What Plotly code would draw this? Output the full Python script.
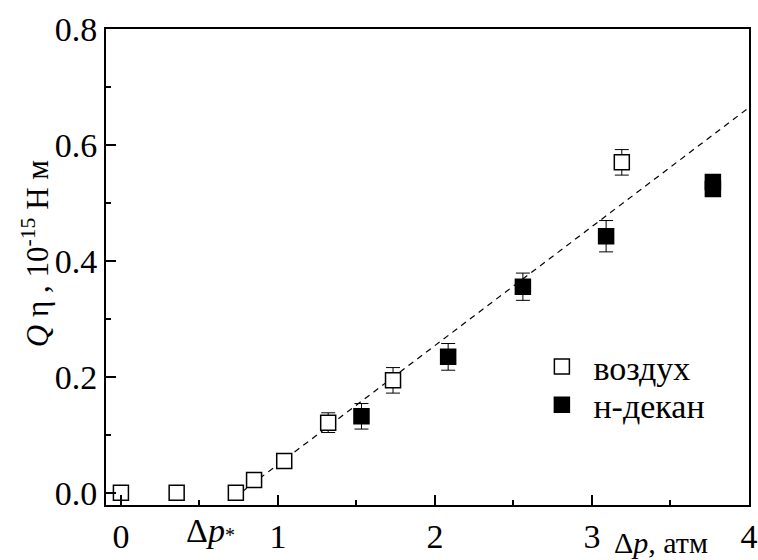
import plotly.graph_objects as go

# Data
air_x = [0.0, 0.355, 0.732, 0.848, 1.04, 1.32, 1.733, 3.19]
air_y = [0.0, 0.0, 0.0, 0.022, 0.055, 0.121, 0.194, 0.570]
air_err = [0.0, 0.0, 0.0, 0.0, 0.004, 0.017, 0.022, 0.022]

dec_x = [1.532, 2.084, 2.56, 3.09, 3.77, 3.77]
dec_y = [0.132, 0.2345, 0.3555, 0.4426, 0.536, 0.524]
dec_err = [0.022, 0.023, 0.0235, 0.027, 0.004, 0.004]

fit_x = [0.715, 4.0]
fit_y = [-0.0097, 0.6645]

x_ticks = [0, 1, 2, 3, 4]
y_ticks = [0.0, 0.2, 0.4, 0.6, 0.8]

FONT = "Liberation Serif"
FS = 34

fig = go.Figure()

fig.add_trace(go.Scatter(
    x=fit_x, y=fit_y, mode="lines",
    line=dict(color="black", width=1.2, dash="6px,5px"),
    showlegend=False, hoverinfo="skip"))

fig.add_trace(go.Scatter(
    x=air_x, y=air_y, mode="markers", name="воздух", legend="legend",
    marker=dict(symbol="square", size=15, color="white",
                line=dict(color="black", width=1.5)),
    error_y=dict(type="data", array=air_err, visible=True,
                 color="black", thickness=1, width=7)))

fig.add_trace(go.Scatter(
    x=dec_x, y=dec_y, mode="markers", name="н-декан", legend="legend2",
    marker=dict(symbol="square", size=15, color="black",
                line=dict(color="black", width=1.5)),
    error_y=dict(type="data", array=dec_err, visible=True,
                 color="black", thickness=1, width=7)))

axis_common = dict(
    showline=True, linecolor="black", linewidth=2, mirror=True,
    ticks="inside", tickcolor="black", tickwidth=2, ticklen=10,
    showgrid=False, zeroline=False, automargin=False,
    tickfont=dict(family=FONT, size=FS, color="black"),
)

fig.update_xaxes(
    range=[-0.095, 4.0], tickvals=x_ticks,
    minor=dict(ticks="inside", dtick=0.5, ticklen=5, tickwidth=2, tickcolor="black"),
    **axis_common)
fig.update_yaxes(
    range=[-0.021, 0.8], tickvals=y_ticks, tickformat=".1f",
    minor=dict(ticks="inside", dtick=0.1, ticklen=5, tickwidth=2, tickcolor="black"),
    **axis_common)

legend_common = dict(xanchor="left", yanchor="middle", bgcolor="rgba(0,0,0,0)",
                     font=dict(family=FONT, size=FS, color="black"), itemwidth=53)

fig.update_layout(
    width=758, height=560,
    margin=dict(l=106, r=9, t=29, b=55),
    paper_bgcolor="white", plot_bgcolor="white",
    font=dict(family=FONT, size=FS, color="black"),
    legend=dict(x=0.660, y=0.29, **legend_common),
    legend2=dict(x=0.660, y=0.21, **legend_common),
    annotations=[
        dict(text="<i>Q</i> η , 10<sup>-15</sup> Н м", textangle=-90,
             xref="paper", yref="paper", x=0, y=0.527, xshift=-71,
             xanchor="center", yanchor="middle", showarrow=False,
             font=dict(family=FONT, size=31, color="black")),
        dict(text="Δ<i>p</i>, атм", xref="x", yref="paper", x=3.44, y=0,
             yshift=-37, xanchor="center", yanchor="middle", showarrow=False,
             font=dict(family=FONT, size=30, color="black")),
        dict(text="Δ<i>p</i><span style='font-size:20px'>*</span>", xref="x", yref="paper",
             x=0.57, y=0, yshift=-25, xanchor="center", yanchor="middle", showarrow=False,
             font=dict(family=FONT, size=FS, color="black")),
    ],
)

fig.write_html("out.html")
